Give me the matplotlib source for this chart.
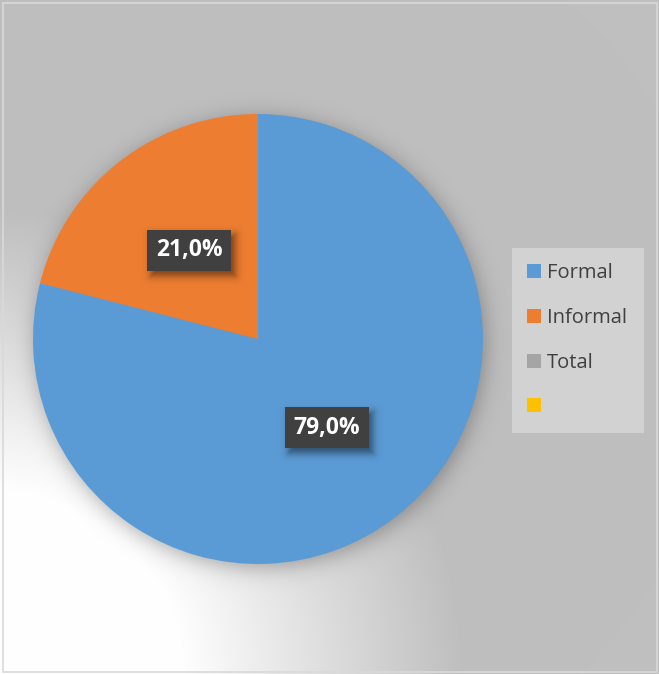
import numpy as np
import matplotlib
matplotlib.use("Agg")
import matplotlib.pyplot as plt
from matplotlib.patches import Patch, Rectangle

# Employment by type (share of total, %)
categories = ["Formal", "Informal", "Total", ""]
shares = [79.0, 21.0, 0.0, 0.0]
colors = ["#5B9BD5", "#ED7D31", "#A5A5A5", "#FFC000"]

W, H = 659, 674
fig = plt.figure(figsize=(W / 100, H / 100), dpi=100)

# ---- background: grey card with a white glow from the lower-left corner
bg_ax = fig.add_axes([0, 0, 1, 1], zorder=0)
bg_ax.axis("off")
yy, xx = np.mgrid[0:H, 0:W] + 0.5
r = np.hypot(xx, yy - H)
t = np.clip((r - 180) / 280, 0, 1)
g = 255 - 64 * t
# soft drop shadow under the pie
cx, cy, R = 258, 339, 225
d = np.hypot(xx - (cx + 2), yy - (cy + 4))
a = 0.3 / (1 + np.exp((d - R) / 6.5))
g = g * (1 - a)
img = np.dstack([g, g, g]) / 255
bg_ax.imshow(img, extent=[0, W, H, 0], aspect="auto", interpolation="bilinear")
bg_ax.set_xlim(0, W)
bg_ax.set_ylim(H, 0)
bg_ax.add_patch(Rectangle((2.5, 2.5), W - 5, H - 5, fill=False, ec="#D9D9D9", lw=1.2))

# ---- pie
pie_ax = fig.add_axes([(cx - R) / W, (H - cy - R) / H, 2 * R / W, 2 * R / H], zorder=1)


def pct_fmt(p):
    return f"{p:.1f}%".replace(".", ",") if p > 0 else ""


wedges, texts, autotexts = pie_ax.pie(
    shares, colors=colors, startangle=90, counterclock=False, radius=1,
    autopct=pct_fmt, pctdistance=0.5,
    textprops=dict(color="white", fontsize=16.5, fontweight="bold", family="Open Sans"),
    wedgeprops=dict(linewidth=0),
)

# dark label boxes with soft shadows
bw, bh = 84 / R, 41 / R
n = 450
gx = np.linspace(-1, 1, n)
GX, GY = np.meshgrid(gx, gx[::-1])
alpha = np.zeros_like(GX)
for at in autotexts:
    if not at.get_text():
        continue
    x, y = at.get_position()
    pie_ax.add_patch(Rectangle((x - bw / 2, y - bh / 2), bw, bh, fc="#404040", ec="none", zorder=3))
    at.set_zorder(4)
    sxc, syc = x + 4 / R, y - 5 / R
    sx = np.abs(GX - sxc) - bw / 2
    sy = np.abs(GY - syc) - bh / 2
    dist = np.hypot(np.maximum(sx, 0), np.maximum(sy, 0)) + np.minimum(np.maximum(sx, sy), 0)
    alpha = np.maximum(alpha, 0.5 / (1 + np.exp(dist / (2.5 / R))))
shadow = np.zeros((n, n, 4))
shadow[..., 3] = alpha
pie_ax.imshow(shadow, extent=[-1, 1, -1, 1], zorder=2, interpolation="bilinear")
pie_ax.set_xlim(-1, 1)
pie_ax.set_ylim(-1, 1)
pie_ax.axis("off")

# ---- legend
handles = [Patch(facecolor=c, edgecolor="none") for c in colors]
fig.legend(
    handles, categories, loc="upper left",
    bbox_to_anchor=(512 / W, 1 - 248 / H, 132 / W, 0), mode="expand", borderaxespad=0,
    frameon=True, fancybox=False, facecolor="#D2D2D2", edgecolor="none", framealpha=1,
    prop=dict(family="Open Sans", size=14.5), labelcolor="#404040",
    handlelength=0.7, handleheight=0.7, handletextpad=0.3,
    labelspacing=1.23, borderpad=0.75,
)

fig.savefig("out.png", dpi=100)
